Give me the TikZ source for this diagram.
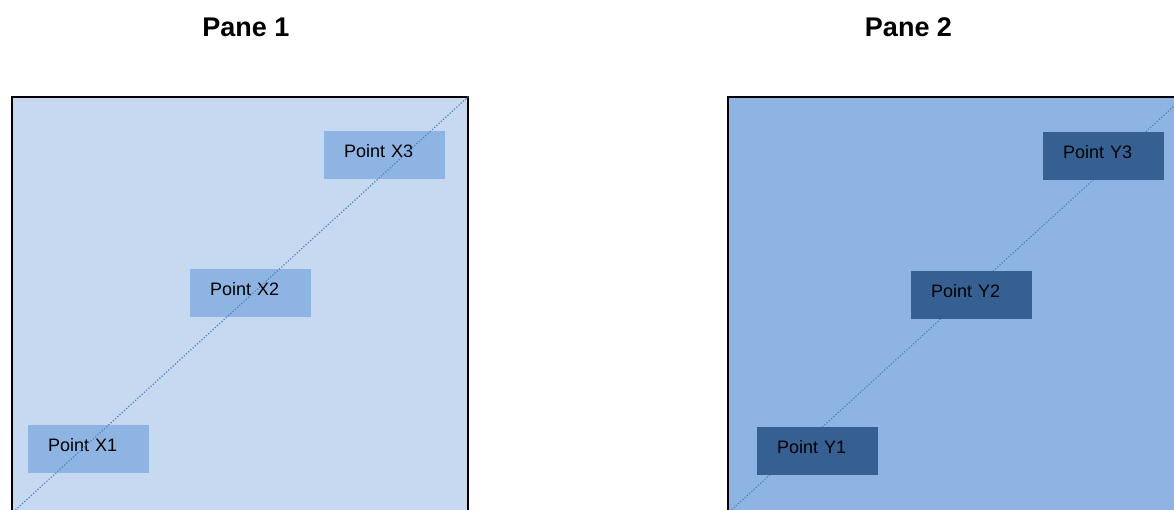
\documentclass[tikz,border=0pt]{standalone}
\usepackage{fontspec}
\setmainfont{Liberation Sans}
\definecolor{paneA}{HTML}{C6D9F1}
\definecolor{paneB}{HTML}{8DB4E2}
\definecolor{ptdark}{HTML}{366092}
\definecolor{diag}{HTML}{4F81BD}
\tikzset{
  panebox/.style={draw=black, line width=2pt, minimum width=456pt, minimum height=416pt, inner sep=0pt, anchor=north west},
  ptbox/.style={minimum width=121pt, minimum height=48pt, text width=81pt, align=left, inner xsep=20pt, inner ysep=0pt, anchor=north west, text depth=8pt, font=\fontsize{18pt}{20pt}\selectfont},
  ptlight/.style={ptbox, fill=paneB},
  ptdk/.style={ptbox, fill=ptdark},
  diagline/.style={draw=diag, line width=1.2pt, dash pattern=on 1.2pt off 1.8pt},
  title/.style={font=\fontsize{27pt}{30pt}\selectfont\bfseries, anchor=base}
}
\begin{document}
\begin{tikzpicture}[x=1pt,y=-1pt]
\useasboundingbox (0,0) rectangle (1174,509);
\clip (0,0) rectangle (1174,509);
\node[title] (t1) at (246,36) {Pane 1};
\node[title] (t2) at (908.5,36) {Pane 2};
% Pane 1
\node[panebox, fill=paneA] (p1) at (11,96) {};
\node[ptlight] (x3) at (324,131) {Point X3};
\node[ptlight] (x2) at (190,269) {Point X2};
\node[ptlight] (x1) at (28,425) {Point X1};
\draw[diagline] (p1.south west) -- (p1.north east);
% Pane 2
\node[panebox, fill=paneB] (p2) at (727,96) {};
\draw[diagline] (p2.south west) -- (p2.north east);
\node[ptdk] (y3) at (1043,132) {Point Y3};
\node[ptdk] (y2) at (911,271) {Point Y2};
\node[ptdk] (y1) at (757,427) {Point Y1};
\end{tikzpicture}
\end{document}
